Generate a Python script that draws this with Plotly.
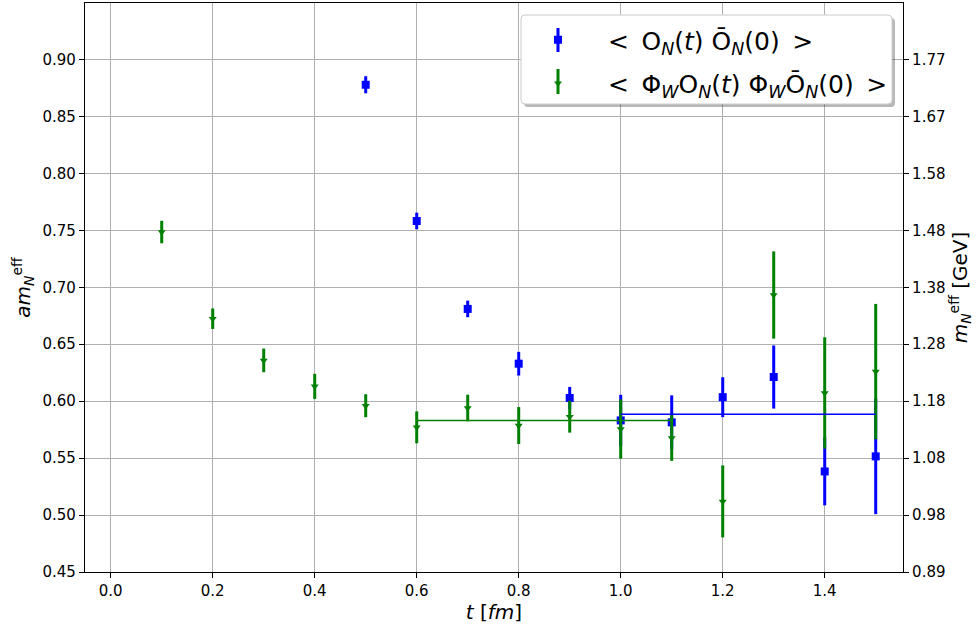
import plotly.graph_objects as go

# ---- data ----
t_blue = [0.5, 0.6, 0.7, 0.8, 0.9, 1.0, 1.1, 1.2, 1.3, 1.4, 1.5]
am_blue = [0.8778, 0.7582, 0.6810, 0.6329, 0.6028, 0.5831, 0.5814, 0.6035, 0.6212, 0.5383, 0.5515]
err_blue = [0.0075, 0.0073, 0.0073, 0.0104, 0.0097, 0.0225, 0.0237, 0.0175, 0.0277, 0.0298, 0.0507]

t_green = [0.1, 0.2, 0.3, 0.4, 0.5, 0.6, 0.7, 0.8, 0.9, 1.0, 1.1, 1.2, 1.3, 1.4, 1.5]
am_green = [0.7485, 0.6724, 0.6358, 0.6130, 0.5960, 0.5770, 0.5940, 0.5786, 0.5864, 0.5755, 0.5676, 0.5120, 0.6932, 0.6072, 0.6260]
err_green = [0.0099, 0.0090, 0.0104, 0.0110, 0.0101, 0.0140, 0.0117, 0.0162, 0.0140, 0.0260, 0.0200, 0.0316, 0.0383, 0.0489, 0.0594]

fit_blue_t = [1.0, 1.5]
fit_blue_val = 0.5884
fit_green_t = [0.6, 1.1]
fit_green_val = 0.5831

y_ticks = [0.45, 0.50, 0.55, 0.60, 0.65, 0.70, 0.75, 0.80, 0.85, 0.90]
y_right_labels = ["0.89", "0.98", "1.08", "1.18", "1.28", "1.38", "1.48", "1.58", "1.67", "1.77"]
x_ticks = [0.0, 0.2, 0.4, 0.6, 0.8, 1.0, 1.2, 1.4]

SP = "\u2002"
label_blue = f"<{SP}O<sub><i>N</i></sub>(<i>t</i>) Ō<sub><i>N</i></sub>(0){SP}>"
label_green = f"<{SP}Φ<sub><i>W</i></sub>O<sub><i>N</i></sub>(<i>t</i>) Φ<sub><i>W</i></sub>Ō<sub><i>N</i></sub>(0){SP}>"

BLUE = "#0000ff"
GREEN = "#008000"
FONT = "DejaVu Sans"

fig = go.Figure()

fig.add_trace(go.Scatter(
    x=t_blue, y=am_blue, mode="markers", name=label_blue, legendgroup="b",
    marker=dict(symbol="square", size=8, color=BLUE),
    error_y=dict(type="data", array=err_blue, color=BLUE, thickness=3, width=0),
))
fig.add_trace(go.Scatter(
    x=t_green, y=am_green, mode="markers", name=label_green, legendgroup="g",
    marker=dict(symbol="triangle-down", size=7, color=GREEN),
    error_y=dict(type="data", array=err_green, color=GREEN, thickness=3, width=0),
))
fig.add_trace(go.Scatter(
    x=fit_green_t, y=[fit_green_val] * 2, mode="lines", showlegend=False,
    line=dict(color=GREEN, width=1.5), hoverinfo="skip",
))
fig.add_trace(go.Scatter(
    x=fit_blue_t, y=[fit_blue_val] * 2, mode="lines", showlegend=False,
    line=dict(color=BLUE, width=1.5), hoverinfo="skip",
))
# invisible trace to activate right axis
fig.add_trace(go.Scatter(
    x=[t_blue[0]], y=[am_blue[0]], yaxis="y2", mode="markers",
    marker=dict(opacity=0), showlegend=False, hoverinfo="skip",
))

# pixel -> paper helpers for legend frame decoration
L, R, T, B = 85, 903, 3, 572
def px(xp):
    return (xp - L) / (R - L)
def py(yp):
    return (B - yp) / (B - T)

def rounded_rect(x0, y0, x1, y1, r):
    pts = [
        f"M{px(x0 + r)},{py(y0)}",
        f"L{px(x1 - r)},{py(y0)}",
        f"Q{px(x1)},{py(y0)} {px(x1)},{py(y0 + r)}",
        f"L{px(x1)},{py(y1 - r)}",
        f"Q{px(x1)},{py(y1)} {px(x1 - r)},{py(y1)}",
        f"L{px(x0 + r)},{py(y1)}",
        f"Q{px(x0)},{py(y1)} {px(x0)},{py(y1 - r)}",
        f"L{px(x0)},{py(y0 + r)}",
        f"Q{px(x0)},{py(y0)} {px(x0 + r)},{py(y0)}",
        "Z",
    ]
    return " ".join(pts)

# shadow
fig.add_shape(type="path", xref="paper", yref="paper",
              path=rounded_rect(524, 18, 895, 107, 4),
              line=dict(width=0), fillcolor="rgba(0,0,0,0.28)", layer="above")
# frame
fig.add_shape(type="path", xref="paper", yref="paper",
              path=rounded_rect(521, 15, 892, 104, 4),
              line=dict(width=1, color="#cccccc"), fillcolor="white", layer="above")
# legend error-bar glyphs
fig.add_shape(type="line", xref="paper", yref="paper",
              x0=px(558), x1=px(558), y0=py(28), y1=py(52),
              line=dict(color=BLUE, width=3), layer="above")
fig.add_shape(type="line", xref="paper", yref="paper",
              x0=px(558), x1=px(558), y0=py(69), y1=py(94),
              line=dict(color=GREEN, width=3), layer="above")

yr = [0.45, 0.9496]
fig.update_layout(
    width=977, height=624,
    margin=dict(l=85, r=74, t=3, b=52),
    paper_bgcolor="white", plot_bgcolor="white",
    font=dict(family=FONT, size=15, color="black"),
    showlegend=True,
    xaxis=dict(
        range=[-0.0504, 1.5535], tickvals=x_ticks, tickformat=".1f",
        showgrid=True, gridcolor="#b0b0b0", gridwidth=1,
        showline=True, linecolor="black", linewidth=1.2, mirror=True,
        ticks="outside", ticklen=5, tickcolor="black", zeroline=False,
        title=dict(text="<i>t</i> [<i>fm</i>]", font=dict(size=20), standoff=4),
    ),
    yaxis=dict(
        range=yr, tickvals=y_ticks, tickformat=".2f",
        showgrid=True, gridcolor="#b0b0b0", gridwidth=1,
        showline=True, linecolor="black", linewidth=1.2, mirror=True,
        ticks="outside", ticklen=5, tickcolor="black", zeroline=False,
        title=dict(text="<i>am</i><sub><i>N</i></sub><sup>eff</sup>", font=dict(size=20), standoff=6),
    ),
    yaxis2=dict(
        range=yr, overlaying="y", side="right", tickvals=y_ticks, ticktext=y_right_labels,
        showgrid=False, showline=True, linecolor="black", linewidth=1.2,
        ticks="outside", ticklen=5, tickcolor="black", zeroline=False,
        title=dict(text="<i>m</i><sub><i>N</i></sub><sup>eff</sup> [GeV]", font=dict(size=20), standoff=6),
    ),
    legend=dict(
        x=px(893), xanchor="right", y=py(17), yanchor="top",
        bgcolor="rgba(0,0,0,0)", borderwidth=0,
        font=dict(size=25, family=FONT), itemsizing="trace",
        itemwidth=90, traceorder="grouped", tracegroupgap=8,
    ),
)

fig.write_html("out.html")
